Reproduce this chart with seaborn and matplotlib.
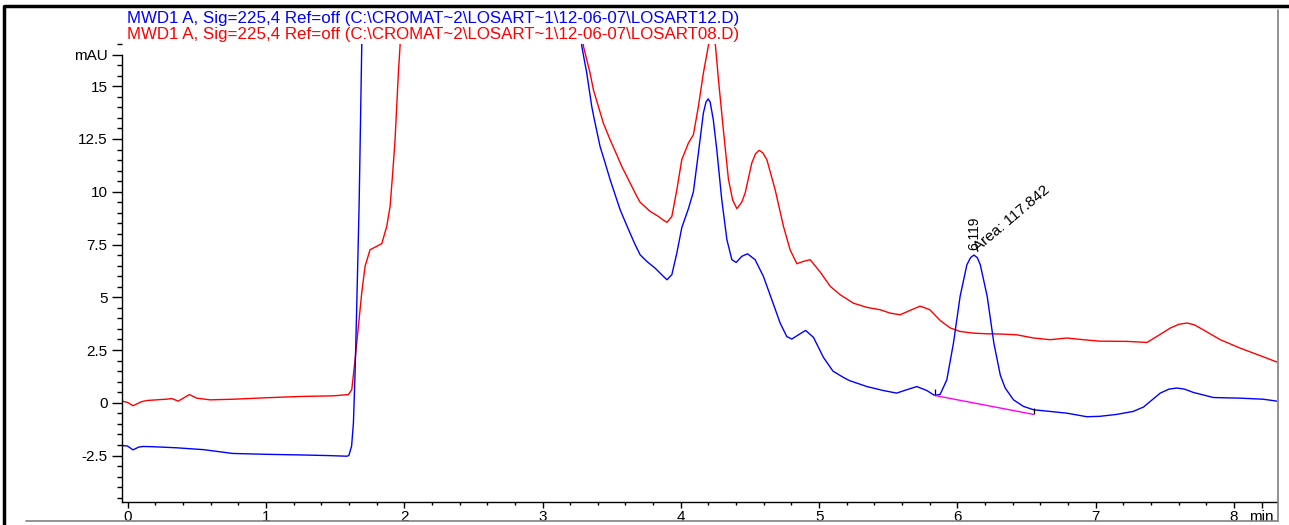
import matplotlib
matplotlib.use("Agg")
import matplotlib.pyplot as plt
from matplotlib.lines import Line2D
from matplotlib.ticker import MultipleLocator, FixedLocator
import seaborn as sns
import pandas as pd

# ---- data ----
title_blue = r"MWD1 A, Sig=225,4 Ref=off (C:\CROMAT~2\LOSART~1\12-06-07\LOSART12.D)"
title_red = r"MWD1 A, Sig=225,4 Ref=off (C:\CROMAT~2\LOSART~1\12-06-07\LOSART08.D)"

blue_t = [-0.04, 0.00, 0.04, 0.08, 0.11, 0.18, 0.35, 0.55, 0.76, 1.00, 1.25, 1.45, 1.585, 1.60,
          1.62, 1.633, 1.645, 1.657, 1.674, 1.686, 1.693, 1.70, 1.75, 2.0, 2.5, 3.0, 3.2, 3.26,
          3.284, 3.32, 3.356, 3.37, 3.416, 3.453, 3.489, 3.525, 3.561, 3.597, 3.633, 3.67, 3.706,
          3.754, 3.814, 3.874, 3.90, 3.935,
          3.971, 4.007, 4.055, 4.091, 4.127, 4.163, 4.182, 4.198, 4.212, 4.235, 4.26, 4.296, 4.333,
          4.369, 4.40, 4.441, 4.482, 4.537, 4.597, 4.658, 4.718, 4.766, 4.802, 4.85, 4.902, 4.959,
          5.031, 5.10, 5.176, 5.22, 5.296, 5.345, 5.465, 5.56, 5.634, 5.706, 5.779, 5.834, 5.875,
          5.923, 5.971, 6.019, 6.068, 6.095, 6.119, 6.143, 6.165, 6.215, 6.263, 6.31, 6.345, 6.405,
          6.477, 6.55, 6.67, 6.79, 6.935, 7.03, 7.15, 7.27, 7.345, 7.466, 7.53, 7.586, 7.64, 7.706,
          7.85, 8.044, 8.21, 8.33]
blue_v = [-2.02, -2.05, -2.23, -2.10, -2.07, -2.08, -2.13, -2.22, -2.40, -2.44, -2.47, -2.50, -2.53, -2.50,
          -2.05, -0.96, 1.42, 4.56, 9.30, 14.0, 16.8, 19.0, 40.0, 80.0, 90.0, 60.0, 30.0, 19.0,
          16.89, 15.62, 14.04, 13.57, 12.15, 11.36, 10.57, 9.86, 9.15, 8.59, 8.04, 7.49, 7.01,
          6.70, 6.38, 5.99, 5.83, 6.07,
          7.09, 8.30, 9.20, 10.0, 11.83, 13.73, 14.25, 14.40, 14.25, 13.40, 11.99, 9.62, 7.73,
          6.78, 6.65, 6.94, 7.06, 6.78, 5.99, 4.88, 3.78, 3.14, 3.02, 3.22, 3.43, 3.10,
          2.15, 1.50, 1.20, 1.05, 0.88, 0.77, 0.58, 0.46, 0.62, 0.77, 0.58, 0.35, 0.40,
          1.09, 2.83, 5.04, 6.54, 6.88, 7.00, 6.88, 6.54, 5.04, 2.83, 1.30, 0.70, 0.14,
          -0.17, -0.33, -0.41, -0.49, -0.66, -0.64, -0.55, -0.41, -0.20, 0.46, 0.65, 0.70, 0.65, 0.49,
          0.25, 0.22, 0.17, 0.06]

red_t = [-0.04, 0.00, 0.04, 0.10, 0.14, 0.28, 0.32, 0.367, 0.447, 0.50, 0.597, 0.765, 1.006, 1.247,
         1.488, 1.597, 1.621, 1.645, 1.669, 1.693, 1.717, 1.753, 1.80, 1.838, 1.874, 1.898, 1.917,
         1.934, 1.946, 1.958, 1.97, 1.98, 2.1, 2.5, 3.0, 3.25, 3.28, 3.296, 3.344, 3.368, 3.404,
         3.44, 3.489, 3.537, 3.573, 3.61, 3.646, 3.682, 3.706, 3.778, 3.838, 3.875, 3.90, 3.935,
         3.971, 4.007, 4.055, 4.091, 4.127,
         4.163, 4.20, 4.225, 4.25, 4.272, 4.308, 4.344, 4.375, 4.405, 4.44, 4.465, 4.513, 4.54,
         4.566, 4.592, 4.622, 4.682, 4.742, 4.79, 4.839, 4.887, 4.935, 5.007, 5.08, 5.152, 5.248,
         5.345, 5.441, 5.513, 5.585, 5.658, 5.73, 5.80, 5.875, 5.947, 6.019, 6.116, 6.213, 6.309,
         6.43, 6.55, 6.67, 6.79, 6.91, 7.03, 7.225, 7.37, 7.44, 7.538, 7.60, 7.659, 7.71, 7.755,
         7.90, 8.044, 8.19, 8.33]
red_v = [0.08, 0.02, -0.14, 0.05, 0.11, 0.17, 0.20, 0.08, 0.39, 0.22, 0.14, 0.17, 0.24, 0.30,
         0.33, 0.39, 0.62, 2.04, 3.62, 5.20, 6.46, 7.25, 7.41, 7.54, 8.36, 9.30, 10.89,
         12.46, 14.04, 15.62, 16.89, 19.0, 45.0, 90.0, 70.0, 25.0, 19.0, 16.89, 15.62, 14.83, 14.04,
         13.25, 12.46, 11.75, 11.20, 10.72, 10.25, 9.78, 9.50, 9.07, 8.83, 8.65, 8.55, 8.83,
         10.09, 11.52, 12.31, 12.70, 14.04,
         15.62, 16.95, 17.6, 16.95, 15.31, 12.9, 10.6, 9.6, 9.2, 9.5, 9.94, 11.36, 11.80,
         11.96, 11.85, 11.52, 10.09, 8.36, 7.25, 6.59, 6.70, 6.78, 6.20, 5.52, 5.12, 4.72,
         4.52, 4.41, 4.25, 4.17, 4.38, 4.58, 4.41, 3.90, 3.55, 3.38, 3.30, 3.27, 3.26,
         3.22, 3.07, 2.99, 3.07, 2.99, 2.92, 2.91, 2.86, 3.14, 3.54, 3.72, 3.78, 3.70, 3.54,
         2.99, 2.59, 2.23, 1.88]

base_t = [5.834, 6.55]
base_v = [0.35, -0.55]

peak_rt = "6.119"
peak_area = "Area: 117.842"

y_major = [-2.5, 0, 2.5, 5, 7.5, 10, 12.5, 15]
y_major_labels = ["-2.5", "0", "2.5", "5", "7.5", "10", "12.5", "15"]
x_major = [0, 1, 2, 3, 4, 5, 6, 7, 8]

# ---- figure ----
sns.set_style("white")
plt.rcParams['font.family'] = ['Liberation Sans', 'DejaVu Sans']

W, H = 1289, 525
Y_TOP, Y_BOT = 44, 502
fig = plt.figure(figsize=(W / 100, H / 100), dpi=100)
ax = fig.add_axes([122 / W, 1 - Y_BOT / H, (1277 - 122) / W, (Y_BOT - Y_TOP) / H])

df_b = pd.DataFrame({"t": blue_t, "v": blue_v})
df_r = pd.DataFrame({"t": red_t, "v": red_v})
df_base = pd.DataFrame({"t": base_t, "v": base_v})

sns.lineplot(data=df_r, x="t", y="v", sort=False, estimator=None, color="#ff0000", lw=1.0, ax=ax)
sns.lineplot(data=df_b, x="t", y="v", sort=False, estimator=None, color="#0000ff", lw=1.0, ax=ax)
sns.lineplot(data=df_base, x="t", y="v", sort=False, estimator=None, color="#ff00ff", lw=1.0, ax=ax)
ax.plot(base_t, [base_v[0] + 0.15, base_v[1] + 0.15], ls="none", marker="|", ms=5, mew=0.9, color="black")

ax.set_xlim(-0.04, 8.31)
ax.set_ylim(-4.7, 17.0)
ax.set_xlabel("")
ax.set_ylabel("")

# spines
for s in ["top", "right"]:
    ax.spines[s].set_visible(False)
ax.spines["left"].set_bounds(-4.7, 16.5)
for s in ["left", "bottom"]:
    ax.spines[s].set_color("black")
    ax.spines[s].set_linewidth(1.0)

ax.yaxis.set_major_locator(FixedLocator(y_major + [16.5]))
ax.set_yticklabels(y_major_labels + ["mAU"])
ax.yaxis.set_minor_locator(MultipleLocator(0.5))
ax.xaxis.set_major_locator(FixedLocator(x_major + [8.2]))
ax.set_xticklabels([str(v) for v in x_major] + ["min"])
ax.xaxis.set_minor_locator(MultipleLocator(0.2))
ax.tick_params(axis="y", which="major", direction="out", length=7.5, width=1, color="black",
               labelsize=11, labelcolor="black", pad=3, left=True)
ax.tick_params(axis="y", which="minor", direction="out", length=3.5, width=1, color="black", left=True)
ax.tick_params(axis="x", which="major", direction="out", length=4, width=1, color="black",
               labelsize=11, labelcolor="black", pad=1.5, bottom=True)
ax.tick_params(axis="x", which="minor", direction="out", length=2.5, width=1, color="black", bottom=True)
ax.grid(False)

# peak annotation
ax.text(6.119, 7.25, peak_rt, rotation=90, ha="left", va="center", fontsize=10, color="black",
        rotation_mode="anchor")
ax.text(6.165, 7.05, peak_area, rotation=40, ha="left", va="bottom", fontsize=11, color="black",
        rotation_mode="anchor")

# signal titles
fig.text(127 / W, 1 - 18 / H, title_blue, color="#0000ff", fontsize=12.2, ha="left", va="center")
fig.text(127 / W, 1 - 34 / H, title_red, color="#ff0000", fontsize=12.2, ha="left", va="center")

# outer frame
def fline(x0, y0, x1, y1, **kw):
    fig.add_artist(Line2D([x0 / W, x1 / W], [1 - y0 / H, 1 - y1 / H], transform=fig.transFigure, **kw))

fline(5, 6, W, 6, color="black", lw=2.5)
fline(3.5, 6, 3.5, H, color="black", lw=2.5)
fline(1278, 10, 1278, 521, color="#808080", lw=1.2)
fline(26, 521, 1278, 521, color="#808080", lw=1.2)

fig.savefig("out.png", dpi=100)
